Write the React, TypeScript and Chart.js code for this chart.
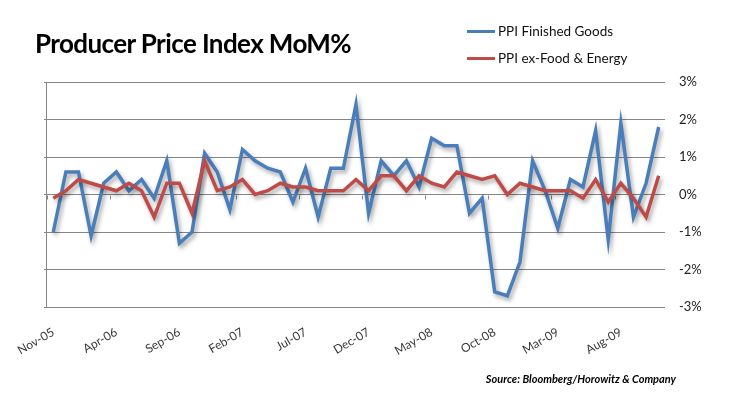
import React, { useEffect, useRef } from 'react';
import { Chart, registerables } from 'chart.js';

Chart.register(...registerables);

const categories = [
  'Nov-05', 'Dec-05',
  'Jan-06', 'Feb-06', 'Mar-06', 'Apr-06', 'May-06', 'Jun-06', 'Jul-06', 'Aug-06', 'Sep-06', 'Oct-06', 'Nov-06', 'Dec-06',
  'Jan-07', 'Feb-07', 'Mar-07', 'Apr-07', 'May-07', 'Jun-07', 'Jul-07', 'Aug-07', 'Sep-07', 'Oct-07', 'Nov-07', 'Dec-07',
  'Jan-08', 'Feb-08', 'Mar-08', 'Apr-08', 'May-08', 'Jun-08', 'Jul-08', 'Aug-08', 'Sep-08', 'Oct-08', 'Nov-08', 'Dec-08',
  'Jan-09', 'Feb-09', 'Mar-09', 'Apr-09', 'May-09', 'Jun-09', 'Jul-09', 'Aug-09', 'Sep-09', 'Oct-09', 'Nov-09',
];

const finishedGoods = [
  -1.0, 0.6, 0.6, -1.1, 0.3, 0.6, 0.1, 0.4, -0.1, 0.9,
  -1.3, -1.0, 1.1, 0.6, -0.4, 1.2, 0.9, 0.7, 0.6, -0.2,
  0.7, -0.6, 0.7, 0.7, 2.4, -0.5, 0.9, 0.5, 0.9, 0.2,
  1.5, 1.3, 1.3, -0.5, -0.1, -2.6, -2.7, -1.8, 0.9, 0.1,
  -0.9, 0.4, 0.2, 1.7, -1.2, 1.9, -0.6, 0.3, 1.8,
];

const exFoodEnergy = [
  -0.1, 0.1, 0.4, 0.3, 0.2, 0.1, 0.3, 0.1, -0.6, 0.3,
  0.3, -0.5, 0.9, 0.1, 0.2, 0.4, 0.0, 0.1, 0.3, 0.2,
  0.2, 0.1, 0.1, 0.1, 0.4, 0.1, 0.5, 0.5, 0.1, 0.5,
  0.3, 0.2, 0.6, 0.5, 0.4, 0.5, 0.0, 0.3, 0.2, 0.1,
  0.1, 0.1, -0.1, 0.4, -0.2, 0.3, -0.1, -0.6, 0.5,
];

const seriesNames = ['PPI Finished Goods', 'PPI ex-Food & Energy'];
const seriesColors = ['#4A7EBB', '#BE4B48'];
const yMin = -3;
const yMax = 3;
const labelEvery = 5;

const FONT = 'Lato, "Open Sans", sans-serif';
const GRID = '#868686';

const shadowPlugin = {
  id: 'lineShadow',
  beforeDatasetDraw(chart: any) {
    const ctx = chart.ctx;
    ctx.save();
    ctx.shadowColor = 'rgba(0,0,0,0.35)';
    ctx.shadowBlur = 4;
    ctx.shadowOffsetX = 2;
    ctx.shadowOffsetY = 3;
  },
  afterDatasetDraw(chart: any) {
    chart.ctx.restore();
  },
};

const zeroTicksPlugin = {
  id: 'zeroTicks',
  beforeDatasetsDraw(chart: any) {
    const ctx = chart.ctx;
    const x = chart.scales.x;
    const y = chart.scales.y;
    const y0 = Math.round(y.getPixelForValue(0)) + 0.5;
    ctx.save();
    ctx.strokeStyle = GRID;
    ctx.lineWidth = 1;
    for (let k = 0; k < categories.length; k += labelEvery) {
      const px = Math.round(x.getPixelForValue(k - 0.5)) + 0.5;
      ctx.beginPath();
      ctx.moveTo(px, y0);
      ctx.lineTo(px, y0 + 4);
      ctx.stroke();
    }
    ctx.restore();
  },
};

export default function App() {
  const ref = useRef<HTMLCanvasElement | null>(null);

  useEffect(() => {
    if (!ref.current) return;
    const chart = new Chart(ref.current, {
      type: 'line',
      data: {
        labels: categories,
        datasets: [
          {
            label: seriesNames[0],
            data: finishedGoods,
            borderColor: seriesColors[0],
            borderWidth: 3.5,
            pointRadius: 0,
            tension: 0,
            fill: false,
            order: 1,
          },
          {
            label: seriesNames[1],
            data: exFoodEnergy,
            borderColor: seriesColors[1],
            borderWidth: 3.5,
            pointRadius: 0,
            tension: 0,
            fill: false,
            order: 0,
          },
        ],
      },
      options: {
        responsive: false,
        animation: false,
        devicePixelRatio: 1,
        layout: { padding: { top: 82, left: 0, right: 0, bottom: 0 } },
        plugins: { legend: { display: false }, tooltip: { enabled: false }, title: { display: false } },
        scales: {
          x: {
            type: 'category',
            offset: true,
            grid: { display: false, drawTicks: false },
            border: { display: false },
            ticks: {
              autoSkip: false,
              minRotation: 30,
              maxRotation: 30,
              padding: 18,
              color: '#383838',
              font: { family: FONT, size: 12 },
              callback: (_v: any, i: number) => (i % labelEvery === 0 ? categories[i] : ''),
            },
            afterFit: (s: any) => {
              s.height = 92;
            },
          },
          y: {
            position: 'left',
            min: yMin,
            max: yMax,
            grid: { color: GRID, lineWidth: 1, drawTicks: true, tickLength: 3 },
            border: { display: true, color: GRID, width: 1 },
            ticks: { display: false, stepSize: 1 },
            afterFit: (s: any) => {
              s.width = 46;
            },
          },
          y2: {
            position: 'right',
            min: yMin,
            max: yMax,
            grid: { display: false, drawTicks: false },
            border: { display: false },
            ticks: {
              stepSize: 1,
              padding: 14,
              color: '#222222',
              font: { family: FONT, size: 13 },
              callback: (v: any) => `${v}%`,
            },
            afterFit: (s: any) => {
              s.width = 64;
            },
          },
        },
      },
      plugins: [shadowPlugin, zeroTicksPlugin],
    });
    return () => chart.destroy();
  }, []);

  return (
    <div style={{ position: 'absolute', left: 0, top: 0, width: 729, height: 399, background: '#fff', overflow: 'hidden' }}>
      <canvas ref={ref} width={729} height={399} style={{ position: 'absolute', left: 0, top: 0 }} />
      <div
        style={{
          position: 'absolute', left: 35, top: 26, fontFamily: FONT, fontWeight: 'bold',
          fontSize: 26, letterSpacing: -0.6, color: '#000', whiteSpace: 'nowrap', lineHeight: '34px',
        }}
      >
        Producer Price Index MoM%
      </div>
      {seriesNames.map((name, i) => (
        <div key={name} style={{ position: 'absolute', left: 467, top: 22 + i * 27, height: 18, display: 'flex', alignItems: 'center' }}>
          <div style={{ width: 28, height: 3, background: seriesColors[i] }} />
          <span style={{ marginLeft: 3, fontFamily: FONT, fontSize: 13.5, color: '#111', whiteSpace: 'nowrap' }}>{name}</span>
        </div>
      ))}
      <div
        style={{
          position: 'absolute', right: 53, top: 371, fontFamily: FONT, fontWeight: 'bold', fontStyle: 'italic',
          fontSize: 11, color: '#000', whiteSpace: 'nowrap', lineHeight: '16px',
        }}
      >
        Source: Bloomberg/Horowitz &amp; Company
      </div>
    </div>
  );
}
